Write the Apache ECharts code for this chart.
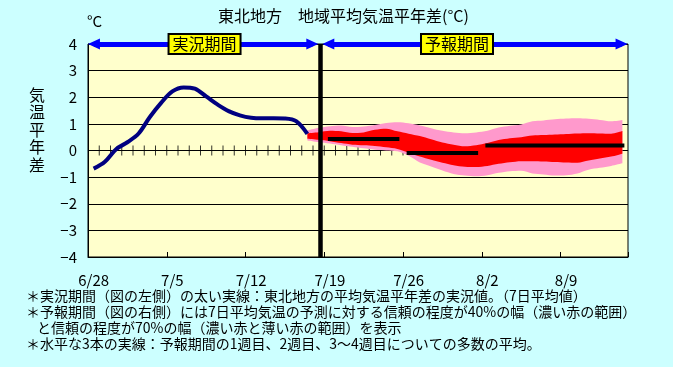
<!DOCTYPE html>
<html><head><meta charset="utf-8">
<script src="https://cdn.jsdelivr.net/npm/echarts@6/dist/echarts.min.js"></script>
<style>html,body{margin:0;padding:0;background:#CCFFFF;} #c{width:673px;height:367px;}</style>
</head><body><div id="c"></div>
<script>
// ---- data ----
const days = ['6/28','6/29','6/30','7/1','7/2','7/3','7/4','7/5','7/6','7/7','7/8','7/9','7/10','7/11','7/12','7/13','7/14','7/15','7/16','7/17','7/18','7/19','7/20','7/21','7/22','7/23','7/24','7/25','7/26','7/27','7/28','7/29','7/30','7/31','8/1','8/2','8/3','8/4','8/5','8/6','8/7','8/8','8/9','8/10','8/11','8/12','8/13','8/14'];
// observed 7-day mean anomaly (6/28 .. 7/17)
const observed = [-0.68,-0.42,0.05,0.31,0.64,1.26,1.79,2.22,2.37,2.32,2.03,1.73,1.48,1.32,1.23,1.21,1.21,1.20,1.10,0.62];
// forecast bands (7/17 .. 8/14)
const bandStartDay = '7/17';
const band70Upper = [0.75,0.85,0.91,0.94,0.88,0.90,0.96,1.03,1.06,1.02,0.94,0.84,0.74,0.68,0.65,0.68,0.74,0.86,0.93,0.98,1.10,1.13,1.17,1.20,1.21,1.19,1.15,1.10,1.15];
const band40Upper = [0.65,0.69,0.74,0.72,0.66,0.68,0.78,0.82,0.72,0.63,0.54,0.42,0.30,0.22,0.16,0.20,0.28,0.39,0.46,0.50,0.56,0.58,0.60,0.62,0.64,0.65,0.64,0.63,0.73];
const band40Lower = [0.44,0.40,0.35,0.28,0.22,0.20,0.17,0.12,0.06,-0.08,-0.23,-0.35,-0.46,-0.55,-0.61,-0.62,-0.58,-0.50,-0.44,-0.40,-0.40,-0.41,-0.43,-0.45,-0.46,-0.38,-0.30,-0.23,-0.12];
const band70Lower = [0.38,0.32,0.26,0.20,0.14,0.08,0.03,0.00,-0.03,-0.20,-0.45,-0.60,-0.75,-0.88,-0.94,-0.97,-0.93,-0.84,-0.78,-0.76,-0.86,-0.90,-0.94,-0.93,-0.86,-0.72,-0.65,-0.58,-0.48];
// ensemble means: week 1, week 2, weeks 3-4
const weekFrom = ['7/19','7/26','8/2'];
const weekTo = ['7/25','8/1','8/14'];
const weekMean = [0.43,-0.09,0.19];
const tickLabels = ['6/28','7/5','7/12','7/19','7/26','8/2','8/9'];
const periodNames = ['実況期間','予報期間'];
const boundaryDay = 20.6; // observed / forecast boundary, in days from 6/28
const notes = [
  '＊実況期間（図の左側）の太い実線：東北地方の平均気温平年差の実況値。（7日平均値）',
  '＊予報期間（図の右側）には7日平均気温の予測に対する信頼の程度が40%の幅（濃い赤の範囲）',
  'と信頼の程度が70%の幅（濃い赤と薄い赤の範囲）を表示',
  '＊水平な3本の実線：予報期間の1週目、2週目、3～4週目についての多数の平均。'
];

// ---- build ----
const N = days.length;
const full = (arr, startIdx) => days.map((d, i) => (i >= startIdx && i - startIdx < arr.length) ? arr[i - startIdx] : null);
const bs = days.indexOf(bandStartDay);
const p70lo = full(band70Lower, bs);
const p70d = full(band70Upper.map((v, i) => +(v - band70Lower[i]).toFixed(3)), bs);
const p40lo = full(band40Lower, bs);
const p40d = full(band40Upper.map((v, i) => +(v - band40Lower[i]).toFixed(3)), bs);
const obsFull = full(observed, 0);
const dayTicks = days.slice(1).map((d, i) => [i + 1, 0]); // day boundaries on the zero line
const FONT = '"Noto Sans CJK JP", sans-serif';

const meanSeries = weekMean.map((m, k) => {
  const a = days.indexOf(weekFrom[k]), b = days.indexOf(weekTo[k]);
  return {
    type: 'line', xAxisIndex: 0, yAxisIndex: 0, symbol: 'none', z: 5,
    data: days.map((d, i) => (i >= a && i <= b) ? m : null),
    lineStyle: { color: '#000', width: 4, cap: 'square' }
  };
});

const chart = echarts.init(document.getElementById('c'), null, { renderer: 'canvas' });
chart.setOption({
  animation: false,
  backgroundColor: '#CCFFFF',
  grid: { left: 88, right: 45, top: 44, bottom: 110, show: true, backgroundColor: '#FFFFCC', borderColor: '#000', borderWidth: 1 },
  xAxis: [
    { type: 'category', data: days, position: 'bottom', boundaryGap: true,
      axisLine: { show: true, onZero: false, lineStyle: { color: '#000', width: 1 } },
      axisTick: { show: true, inside: true, length: 5, interval: 6, lineStyle: { color: '#000' } },
      axisLabel: { interval: 6, color: '#000', fontSize: 15, margin: 16, fontFamily: FONT,
        formatter: v => tickLabels.indexOf(v) >= 0 ? v : '' },
      splitLine: { show: false } },
    { type: 'value', min: 0, max: N, show: false }
  ],
  yAxis: { type: 'value', min: -4, max: 4, interval: 1,
    axisLine: { show: true, lineStyle: { color: '#000' } },
    axisTick: { show: false },
    axisLabel: { color: '#000', fontSize: 15, margin: 11, fontFamily: FONT, formatter: v => String(v).replace('-', '−') },
    splitLine: { show: true, lineStyle: { color: '#000', width: 1 } } },
  series: [
    { type: 'scatter', xAxisIndex: 1, yAxisIndex: 0, data: dayTicks, symbol: 'rect', symbolSize: [1, 10], silent: true,
      itemStyle: { color: '#000' }, z: 1 },
    { type: 'line', stack: 'p70', stackStrategy: 'all', data: p70lo, symbol: 'none', smooth: 0.3, lineStyle: { opacity: 0 }, z: 2 },
    { type: 'line', stack: 'p70', stackStrategy: 'all', data: p70d, symbol: 'none', smooth: 0.3, lineStyle: { opacity: 0 }, areaStyle: { color: '#FF99CC', opacity: 1 }, z: 2 },
    { type: 'line', stack: 'p40', stackStrategy: 'all', data: p40lo, symbol: 'none', smooth: 0.3, lineStyle: { opacity: 0 }, z: 3 },
    { type: 'line', stack: 'p40', stackStrategy: 'all', data: p40d, symbol: 'none', smooth: 0.3, lineStyle: { opacity: 0 }, areaStyle: { color: '#FF0000', opacity: 1 }, z: 3 },
    { type: 'line', data: obsFull, symbol: 'none', smooth: 0.35, lineStyle: { color: '#000080', width: 4 }, z: 4 },
    ...meanSeries,
    { type: 'line', xAxisIndex: 1, yAxisIndex: 0, data: [], z: 6,
      markLine: {
        silent: true, animation: false,
        data: [
          [{ coord: [0.53, 4], symbol: 'triangle', symbolSize: [11, 12] }, { coord: [19.94, 4], symbol: 'triangle', symbolSize: [11, 12] }],
          [{ coord: [21.36, 4], symbol: 'triangle', symbolSize: [11, 12] }, { coord: [47.43, 4], symbol: 'triangle', symbolSize: [11, 12] }]
        ],
        lineStyle: { color: '#0000FF', width: 5, type: 'solid' },
        label: { show: false }
      },
      markPoint: {
        silent: true, symbol: 'rect', symbolSize: 0,
        data: [
          { coord: [10.36, 4], name: periodNames[0] },
          { coord: [32.8, 4], name: periodNames[1] }
        ],
        label: { show: true, position: 'inside', formatter: '{b}', color: '#000', fontSize: 16, fontFamily: FONT,
          backgroundColor: '#FFFF00', borderColor: '#000', borderWidth: 2, padding: [1, 3, 0, 3], lineHeight: 17 }
      }
    },
    { type: 'line', xAxisIndex: 1, yAxisIndex: 0, data: [], z: 5,
      markLine: { silent: true, animation: false, symbol: 'none',
        data: [[{ coord: [boundaryDay, -4] }, { coord: [boundaryDay, 4] }]],
        lineStyle: { color: '#000', width: 4.5, type: 'solid' }, label: { show: false } } }
  ],
  graphic: [
    { type: 'text', left: 218, top: 8, style: { text: '東北地方　地域平均気温平年差(°C)', font: '16px ' + FONT, fill: '#000' } },
    { type: 'text', left: 87, top: 14, style: { text: '°C', font: '15px ' + FONT, fill: '#000' } },
    { type: 'text', left: 29, top: 86, style: { text: '気\n温\n平\n年\n差', font: '16px ' + FONT, lineHeight: 17.5, fill: '#000' } },
    { type: 'text', left: 26, top: 289, style: { text: notes[0], font: '14px ' + FONT, fill: '#000' } },
    { type: 'text', left: 26, top: 305, style: { text: notes[1], font: '14px ' + FONT, fill: '#000' } },
    { type: 'text', left: 37, top: 321, style: { text: notes[2], font: '14px ' + FONT, fill: '#000' } },
    { type: 'text', left: 26, top: 337, style: { text: notes[3], font: '14px ' + FONT, fill: '#000' } }
  ]
});
</script></body></html>
